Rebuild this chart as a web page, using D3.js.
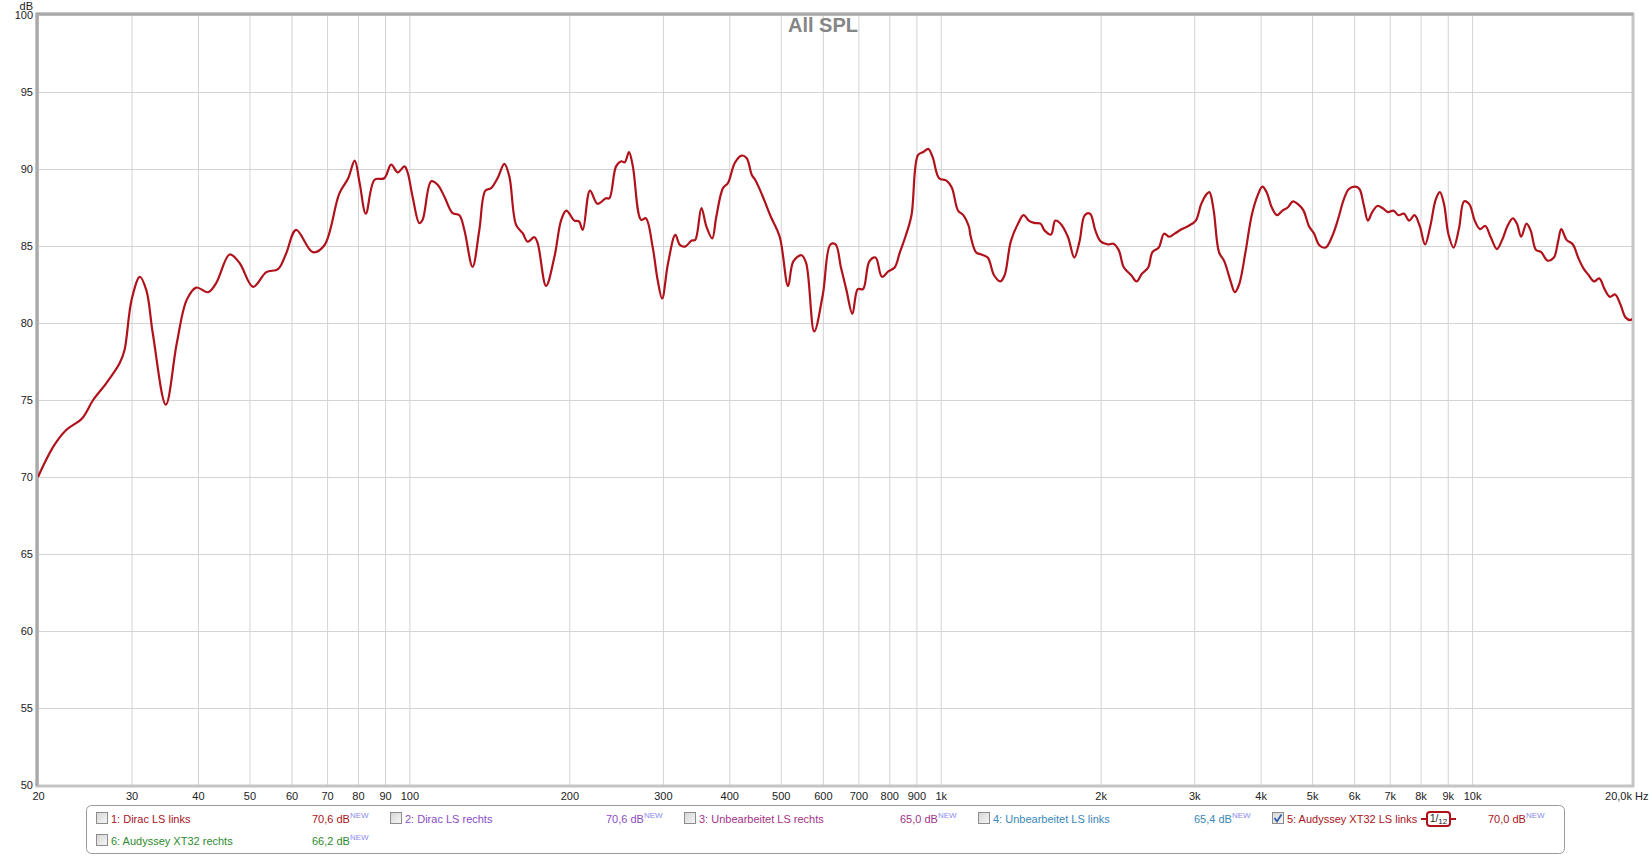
<!DOCTYPE html>
<html>
<head>
<meta charset="utf-8">
<title>All SPL</title>
<script src="https://cdn.jsdelivr.net/npm/d3@7/dist/d3.min.js"></script>
<style>
body { margin: 0; background: #fff; }
svg { display: block; font-family: "Liberation Sans", Arial, sans-serif; }
</style>
</head>
<body>
<script>
var w = 1650;
var h = 856;

// plot box
var plotLeft = 38, plotRight = 1632, plotTop = 15, plotBottom = 785;

// measurement 5: Audyssey XT32 LS links, 1/12 oct smoothing
var freq = [20, 21.4, 22.6, 24.2, 25.4, 26.9, 28.5, 29.1, 30.0, 31.1, 32.0, 32.9, 34.8, 36.5, 38.1, 39.7,
  41.8, 43.3, 45.9, 47.9, 50.8, 53.8, 56.6, 58.6, 61.2, 65.8, 69.2, 73.8, 76.7, 78.9, 80.6, 82.8, 86.0,
  89.7, 92.4, 95.1, 97.9, 99.3, 101.4, 104.4, 105.9, 109.9, 113.0, 116.4, 120.6, 124.2, 126.9, 131.5,
  135.4, 139.0, 142.5, 146.6, 150.9, 154.2, 158.8, 163.4, 167.0, 171.9, 174.4, 180.8, 187.5, 193.1,
  197.4, 204.4, 208.5, 212.0, 218.7, 226.0, 234.4, 237.9, 244.9, 250.5, 254.3, 259.0, 263.4, 272.9,
  278.6, 286.9, 293.3, 299.0, 306.7, 316.6, 322.9, 330.1, 339.9, 345.1, 354.5, 362.3, 371.5, 378.1,
  389.2, 397.8, 409.6, 421.8, 431.1, 440.9, 447.5, 461.0, 478.9, 497.7,
  516, 528, 547, 558, 578, 600, 620, 634, 649, 664, 682, 698, 714, 734, 754, 775, 797, 819, 838, 858,
  881, 906, 927, 948, 966, 993, 1025, 1049, 1078, 1103, 1129, 1139, 1165, 1192, 1226, 1260, 1295, 1319,
  1355, 1400, 1432, 1465, 1499, 1541, 1569, 1613, 1643, 1681, 1735, 1784, 1825, 1867, 1910, 1955, 2000,
  2065, 2113, 2162, 2212, 2284, 2337, 2391, 2457, 2503, 2573, 2632, 2693, 2756, 2845, 2925, 3020, 3090,
  3161, 3204, 3264, 3340, 3418, 3513, 3577, 3644, 3746, 3849, 3956, 4030, 4104, 4199, 4296, 4396, 4498,
  4602, 4709, 4818, 4930, 5044, 5159, 5302, 5450, 5602, 5732, 5865, 6028, 6139, 6252, 6368, 6487, 6637,
  6791, 6948, 7109, 7274, 7443, 7615, 7792, 7972, 8157, 8346, 8540, 8698, 8859, 9023, 9231, 9445, 9663,
  9887, 10116, 10350, 10590, 10835, 11137, 11395, 11659, 11929, 12148, 12373, 12660, 12893, 13188, 13494,
  13870, 14256, 14519, 14720, 15061, 15480, 15838, 16205, 16581, 16965, 17357, 17759, 18170, 18591,
  19022, 19463, 19908, 20000];
var spl = [70.0, 72.0, 73.05, 73.8, 75.0, 76.1, 77.4, 78.25, 81.5, 83.0, 82.1, 79.3, 74.7, 78.7, 81.5, 82.3,
  82.0, 82.6, 84.45, 83.9, 82.35, 83.3, 83.5, 84.5, 86.05, 84.6, 85.05, 88.4, 89.4, 90.55, 89.1, 87.1, 89.3,
  89.4, 90.28, 89.78, 90.17, 89.74, 88.2, 86.48, 86.7, 89.2, 88.98, 88.2, 87.13, 87.0, 86.04, 83.65,
  86.04, 88.6, 88.76, 89.41, 90.33, 89.52, 86.37, 85.83, 85.28, 85.57, 85.17, 82.41, 84.3, 86.7,
  87.3, 86.65, 86.6, 86.04, 88.6, 87.74, 88.1, 88.1, 90.17, 90.5, 90.43, 91.1, 90.17, 86.7,
  86.8, 84.96, 82.78, 81.59, 83.87, 85.72, 85.07, 84.96, 85.35, 85.39, 87.46, 86.26, 85.5, 86.9,
  88.76, 89.09, 90.39, 90.87, 90.72, 89.63, 89.3, 88.33, 86.9, 85.6,
  82.4, 84.0, 84.4, 83.9, 79.45, 81.85, 85.1, 85.1, 83.6, 82.2, 80.6, 82.2, 82.2, 84.0, 84.25, 83.0, 83.35, 83.6, 84.6, 85.6,
  87.0, 90.9, 91.1, 91.3, 90.75, 89.4, 89.25, 88.8, 87.3, 87.0, 86.3, 85.6, 84.6, 84.45, 84.25, 83.1, 82.7, 83.1,
  85.3, 86.5, 87.0, 86.65, 86.5, 86.45, 86.0, 85.75, 86.65, 86.45, 85.6, 84.25, 85.3, 87.0, 87.1, 86.0, 85.3,
  85.1, 85.15, 84.75, 83.6, 83.1, 82.7, 83.2, 83.6, 84.6, 84.9, 85.8, 85.6, 85.8, 86.1, 86.3, 86.65, 87.7,
  88.35, 88.5, 87.3, 84.6, 84.0, 82.7, 82.0, 82.5, 84.6, 87.0, 88.35, 88.85, 88.5, 87.5, 87.0, 87.3, 87.5,
  87.9, 87.7, 87.3, 86.3, 85.8, 85.05, 84.9, 85.6, 86.8, 88.0, 88.7, 88.85, 88.7, 87.7, 86.65, 87.2, 87.6,
  87.45, 87.2, 87.3, 87.0, 87.1, 86.65, 87.0, 86.3, 85.1, 86.3, 88.0, 88.5, 87.7, 85.8, 84.9, 86.1, 87.9,
  87.7, 86.65, 86.1, 86.3, 85.6, 84.8, 85.4, 86.3, 86.8, 86.45, 85.6, 86.45, 86.0, 84.75, 84.6,
  84.05, 84.25, 85.3, 86.1, 85.4, 85.1, 84.25, 83.55, 83.1, 82.7, 82.9, 82.2, 81.7, 81.85,
  81.2, 80.35, 80.2, 80.3];

var xTicks = [20, 30, 40, 50, 60, 70, 80, 90, 100, 200, 300, 400, 500, 600, 700, 800, 900,
  1000, 2000, 3000, 4000, 5000, 6000, 7000, 8000, 9000, 10000, 20000];
var yTicks = [50, 55, 60, 65, 70, 75, 80, 85, 90, 95, 100];

var legendNames = ["1: Dirac LS links", "2: Dirac LS rechts", "3: Unbearbeitet LS rechts",
  "4: Unbearbeitet LS links", "5: Audyssey XT32 LS links", "6: Audyssey XT32 rechts"];
var legendValues = ["70,6 dB", "70,6 dB", "65,0 dB", "65,4 dB", "70,0 dB", "66,2 dB"];
var legendColors = ["#a8141c", "#8a4cc6", "#a2338a", "#3b87b8", "#a8141c", "#2e8a2e"];
var legendChecked = [false, false, false, false, true, false];

var curveColor = "#b0121b";

var svg = d3.select("body").append("svg").attr("width", w).attr("height", h);

var x = d3.scaleLog().domain([20, 20000]).range([plotLeft, plotRight]);
var y = d3.scaleLinear().domain([50, 100]).range([plotBottom, plotTop]);

function fmtHz(d) {
  if (d == 20000) return "20,0k Hz";
  if (d >= 1000) return (d / 1000) + "k";
  return d;
}

function drawAxes() {
  var gx = svg.append("g")
    .attr("transform", "translate(0," + plotBottom + ")")
    .call(d3.axisBottom(x).tickValues(xTicks).tickFormat(fmtHz)
      .tickSize(-(plotBottom - plotTop)).tickPadding(7));
  var gy = svg.append("g")
    .attr("transform", "translate(" + plotLeft + ",0)")
    .call(d3.axisLeft(y).tickValues(yTicks).tickSize(-(plotRight - plotLeft)).tickPadding(5));

  [gx, gy].forEach(function(g) {
    g.select(".domain").remove();
    g.selectAll("line").attr("stroke", "#d3d3d3");
    g.selectAll("text").style("font-size", "11px").attr("fill", "#222");
  });
  gx.selectAll(".tick").filter(function(d) { return d == 20000; })
    .select("text").attr("text-anchor", "end").attr("x", 16);

  svg.append("text").attr("x", 33).attr("y", 10).attr("text-anchor", "end")
    .style("font-size", "11px").attr("fill", "#222").text("dB");
}

function drawFrame() {
  svg.append("rect")
    .attr("x", plotLeft - 1).attr("y", plotTop - 1)
    .attr("width", plotRight - plotLeft + 2).attr("height", plotBottom - plotTop + 2)
    .attr("fill", "none").attr("stroke", "#c4c4c4").attr("stroke-width", 3);
  // darker top and left edge
  svg.append("path")
    .attr("d", "M" + (plotLeft - 1) + "," + (plotBottom + 1) + "V" + (plotTop - 1) + "H" + (plotRight + 1))
    .attr("fill", "none").attr("stroke", "#a9a9a9").attr("stroke-width", 3);

  svg.append("text").attr("x", 823).attr("y", 32).attr("text-anchor", "middle")
    .style("font-size", "20px").style("font-weight", "bold").attr("fill", "#858585")
    .text("All SPL");
}

function drawCurve() {
  svg.append("clipPath").attr("id", "plotclip").append("rect")
    .attr("x", plotLeft).attr("y", plotTop)
    .attr("width", plotRight - plotLeft).attr("height", plotBottom - plotTop);

  var line = d3.line()
    .x(function(d, i) { return x(freq[i]); })
    .y(function(d) { return y(d); })
    .curve(d3.curveCatmullRom.alpha(0.5));

  svg.append("path").datum(spl)
    .attr("clip-path", "url(#plotclip)")
    .attr("d", line)
    .attr("fill", "none")
    .attr("stroke", curveColor)
    .attr("stroke-width", 2.2)
    .attr("stroke-linejoin", "round");
}

function drawLegend() {
  svg.append("rect").attr("x", 86.5).attr("y", 805.5).attr("width", 1478).attr("height", 48)
    .attr("rx", 5).attr("fill", "#fff").attr("stroke", "#9a9a9a");

  var defs = svg.append("defs");
  var grad = defs.append("linearGradient").attr("id", "boxgrad").attr("x1", 0).attr("y1", 0).attr("x2", 1).attr("y2", 1);
  grad.append("stop").attr("offset", "0%").attr("stop-color", "#d6d6d6");
  grad.append("stop").attr("offset", "100%").attr("stop-color", "#f6f6f6");

  var items = svg.selectAll(".item").data(legendNames).enter().append("g")
    .attr("class", "item")
    .attr("transform", function(d, i) {
      var col = i < 5 ? i : i - 5;
      var row = i < 5 ? 0 : 1;
      return "translate(" + (96 + col * 294) + "," + (819 + row * 22) + ")";
    });

  items.append("rect").attr("x", 0.5).attr("y", -6.5).attr("width", 11).attr("height", 11)
    .attr("fill", "url(#boxgrad)").attr("stroke", "#8c8c8c");

  items.filter(function(d, i) { return legendChecked[i]; }).append("path")
    .attr("d", "M2.5,-1 L5,2.5 L9.5,-4.5")
    .attr("fill", "none").attr("stroke", "#2d5fa8").attr("stroke-width", 1.8);

  items.append("text").attr("x", 15).attr("y", 4)
    .style("font-size", "11px")
    .attr("fill", function(d, i) { return legendColors[i]; })
    .text(function(d) { return d; });

  var val = items.append("text").attr("x", 216).attr("y", 4)
    .style("font-size", "11px")
    .attr("fill", function(d, i) { return legendColors[i]; });
  val.append("tspan").text(function(d, i) { return legendValues[i]; });
  val.append("tspan").attr("dy", -5).style("font-size", "8px").attr("fill", "#8a8af0").text("NEW");

  // smoothing badge for the shown trace
  var sel = items.filter(function(d, i) { return legendChecked[i]; });
  sel.append("line").attr("x1", 149).attr("x2", 184).attr("y1", 0).attr("y2", 0)
    .attr("stroke", curveColor).attr("stroke-width", 2);
  sel.append("rect").attr("x", 155).attr("y", -7).attr("width", 23).attr("height", 14).attr("rx", 3)
    .attr("fill", "#fff").attr("stroke", curveColor).attr("stroke-width", 2);
  var badge = sel.append("text").attr("x", 158).attr("y", 3).attr("fill", "#222").style("font-size", "10px");
  badge.append("tspan").text("1");
  badge.append("tspan").text("/");
  badge.append("tspan").attr("dy", 2).style("font-size", "8px").text("12");
}

drawAxes();
drawFrame();
drawCurve();
drawLegend();
</script>
</body>
</html>
